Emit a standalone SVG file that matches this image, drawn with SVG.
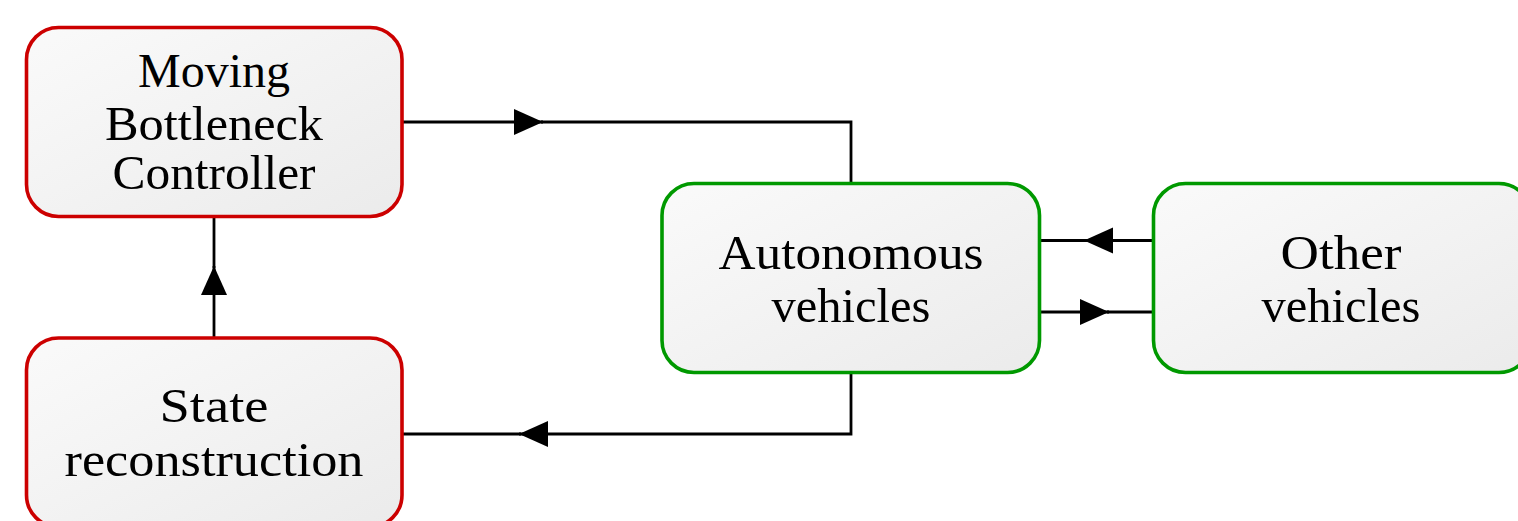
<svg xmlns="http://www.w3.org/2000/svg" width="1518" height="521" viewBox="0 0 1518 521">
  <style>
    .box { stroke-width: 3.6; fill: url(#shade); }
    .red { stroke: #cc0000; }
    .green { stroke: #009900; }
    .lbl { font-family: "Liberation Serif", "DejaVu Serif", serif; font-size: 48px; fill: #000; text-anchor: middle; }
    .conn { fill: none; stroke: #000; stroke-width: 2.8; }
  </style>
  <defs>
    <linearGradient id="shade" x1="0" y1="0" x2="1" y2="1">
      <stop offset="0" stop-color="#fafafa"/>
      <stop offset="1" stop-color="#ebebeb"/>
    </linearGradient>
    <marker id="arr" markerUnits="userSpaceOnUse" markerWidth="30" markerHeight="28" refX="29" refY="13" orient="auto" viewBox="0 0 30 26">
      <path d="M0,0 L29,13 L0,26 Z" fill="#000"/>
    </marker>
  </defs>

  <g id="connectors">
    <path class="conn" d="M402,122 H543" marker-end="url(#arr)"/>
    <path class="conn" d="M541,122 H851 V183.5"/>
    <path class="conn" d="M851,372.5 V434 H519" marker-end="url(#arr)"/>
    <path class="conn" d="M521,434 H402"/>
    <path class="conn" d="M214,338 V266" marker-end="url(#arr)"/>
    <path class="conn" d="M214,268 V216.5"/>
    <path class="conn" d="M1153.5,240.5 H1084" marker-end="url(#arr)"/>
    <path class="conn" d="M1086,240.5 H1039.5"/>
    <path class="conn" d="M1039.5,312 H1109" marker-end="url(#arr)"/>
    <path class="conn" d="M1107,312 H1153.5"/>
  </g>

  <g id="node-controller">
    <rect class="box red" x="26.5" y="27.5" width="375.5" height="189" rx="32" ry="32"/>
    <text class="lbl" x="214" y="87" textLength="152" lengthAdjust="spacingAndGlyphs">Moving</text>
    <text class="lbl" x="214" y="139.5" textLength="218" lengthAdjust="spacingAndGlyphs">Bottleneck</text>
    <text class="lbl" x="214" y="189" textLength="203" lengthAdjust="spacingAndGlyphs">Controller</text>
  </g>

  <g id="node-state">
    <rect class="box red" x="26.5" y="338" width="375.5" height="189" rx="32" ry="32"/>
    <text class="lbl" x="214" y="422" textLength="109" lengthAdjust="spacingAndGlyphs">State</text>
    <text class="lbl" x="214" y="476" textLength="299" lengthAdjust="spacingAndGlyphs">reconstruction</text>
  </g>

  <g id="node-autonomous">
    <rect class="box green" x="662" y="183.5" width="377.5" height="189" rx="32" ry="32"/>
    <text class="lbl" x="851" y="269" textLength="265" lengthAdjust="spacingAndGlyphs">Autonomous</text>
    <text class="lbl" x="851" y="322" textLength="159" lengthAdjust="spacingAndGlyphs">vehicles</text>
  </g>

  <g id="node-other">
    <rect class="box green" x="1153.5" y="183.5" width="377.5" height="189" rx="32" ry="32"/>
    <text class="lbl" x="1341" y="269" textLength="121" lengthAdjust="spacingAndGlyphs">Other</text>
    <text class="lbl" x="1341" y="322" textLength="159" lengthAdjust="spacingAndGlyphs">vehicles</text>
  </g>
</svg>
